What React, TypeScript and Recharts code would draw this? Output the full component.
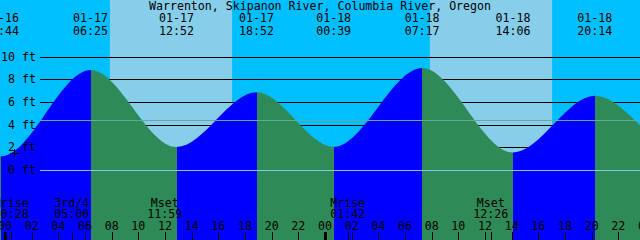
import React from "react";
import {
  ComposedChart,
  Area,
  XAxis,
  YAxis,
  ReferenceArea,
  ReferenceLine,
  ReferenceDot,
} from "recharts";

const W = 640;
const H = 240;
const NIGHT = "#00bfff";
const DAY = "#87ceeb";
const RISING = "#0000ff";
const FALLING = "#2e8b57";
const MSL_COLOR = "#66a89c";
const DATUM_COLOR = "#84c6e6";
const FONT = "'DejaVu Sans Mono', monospace";
const FS = 11.6;
const GUTTER = 40; // ft labels sit left of this

const title = "Warrenton, Skipanon River, Columbia River, Oregon";

// highs and lows (date, clock time, level in ft)
const tideDates = ["01-16", "01-17", "01-17", "01-17", "01-18", "01-18", "01-18", "01-18"];
const tideClock = ["23:44", "06:25", "12:52", "18:52", "00:39", "07:17", "14:06", "20:14"];
const tideLevels = [1.22, 8.83, 2.03, 6.86, 2.04, 9.0, 1.55, 6.55];

// level at the left and right edge of the window (hours from 01-17 00:00)
const edgeHours = [-0.375, 47.625];
const edgeLevels = [1.24, 3.95];

const sunDates = ["01-17", "01-18"];
const sunrise = ["07:52", "07:52"];
const sunset = ["17:02", "17:02"];

const moonDates = ["01-17", "01-17", "01-17", "01-18", "01-18"];
const moonNames = ["Mrise", "3rd/4", "Mset", "Mrise", "Mset"];
const moonClock = ["00:28", "05:00", "11:59", "01:42", "12:26"];

const hourTicks = [0, 2, 4, 6, 8, 10, 12, 14, 16, 18, 20, 22, 24, 26, 28, 30, 32, 34, 36, 38, 40, 42, 44, 46, 48];
const levelTicks = [0, 2, 4, 6, 8, 10];
const mslLevel = 4.38;
const nowMark = { date: "01-17", clock: "00:41", level: 1.53 };

const X_DOMAIN = [edgeHours[0], edgeHours[1]];
const Y_DOMAIN = [-6.18, 15];

const toHours = (date: string, clock: string) => {
  const day = Number(date.slice(3)) - 17;
  const [h, m] = clock.split(":").map(Number);
  return day * 24 + h + m / 60;
};

const tideHours = tideDates.map((d, i) => toHours(d, tideClock[i]));
const moonHours = moonDates.map((d, i) => toHours(d, moonClock[i]));

const curve = [
  { t: edgeHours[0], level: edgeLevels[0] },
  ...tideHours.map((t, i) => ({ t, level: tideLevels[i] })),
  { t: edgeHours[1], level: edgeLevels[1] },
];

// rising water blue, falling water green
const span = X_DOMAIN[1] - X_DOMAIN[0];
const stops: { o: number; c: string }[] = [];
for (let i = 0; i < curve.length - 1; i++) {
  const c = curve[i + 1].level > curve[i].level ? RISING : FALLING;
  stops.push({ o: (curve[i].t - X_DOMAIN[0]) / span, c });
  stops.push({ o: (curve[i + 1].t - X_DOMAIN[0]) / span, c });
}

const txt = { fontFamily: FONT, fontSize: FS, fill: "#000" };
const px = (v: number) => Math.round(v) + 0.5;

const EventTick = (p: any) => {
  const i = tideHours.indexOf(p.payload.value);
  if (i < 0) return null;
  return (
    <g>
      <text x={p.x} y={p.y + 21.7} textAnchor='middle' {...txt}>
        {tideDates[i]}
      </text>
      <text x={p.x} y={p.y + 35} textAnchor='middle' {...txt}>
        {tideClock[i]}
      </text>
    </g>
  );
};

const BottomTick = (p: any) => {
  const v = p.payload.value;
  const x = px(p.x);
  const hi = hourTicks.indexOf(v);
  if (hi >= 0) {
    const hh = v % 24;
    return (
      <g>
        <text x={p.x} y={p.y} textAnchor='middle' {...txt}>
          {String(hh).padStart(2, "0")}
        </text>
        <line x1={x} x2={x} y1={p.y + 2} y2={p.y + 10} stroke='#000' strokeWidth={hh === 0 ? 3 : 1} />
      </g>
    );
  }
  const mi = moonHours.indexOf(v);
  if (mi < 0) return null;
  return (
    <g>
      <text x={p.x} y={p.y - 23.3} textAnchor='middle' {...txt}>
        {moonNames[mi]}
      </text>
      <text x={p.x} y={p.y - 11.7} textAnchor='middle' {...txt}>
        {moonClock[mi]}
      </text>
      <line x1={x} x2={x} y1={p.y + 2} y2={p.y + 10} stroke='#000' strokeWidth={1} />
    </g>
  );
};

const gutterLine = (color: string) => (p: any) =>
  <line x1={GUTTER} x2={p.x2} y1={px(p.y1)} y2={px(p.y1)} stroke={color} strokeWidth={1} />;

export default function App() {
  return (
    <div style={{ position: "absolute", left: 0, top: 0, width: W, height: H, background: NIGHT }}>
      <ComposedChart width={W} height={H} data={curve} margin={{ top: 0, right: 0, bottom: 0, left: 0 }}>
        <defs>
          <linearGradient id='tideFill' x1='0' y1='0' x2='1' y2='0'>
            {stops.map((s, i) => (
              <stop key={i} offset={s.o} stopColor={s.c} />
            ))}
          </linearGradient>
        </defs>
        <XAxis
          xAxisId='h'
          dataKey='t'
          type='number'
          domain={X_DOMAIN}
          allowDataOverflow
          orientation='bottom'
          mirror
          height={30}
          ticks={[...hourTicks, ...moonHours]}
          interval={0}
          tickSize={8}
          tickMargin={2}
          tickLine={false}
          axisLine={false}
          tick={BottomTick}
        />
        <XAxis
          xAxisId='top'
          dataKey='t'
          type='number'
          domain={X_DOMAIN}
          allowDataOverflow
          orientation='top'
          mirror
          height={30}
          ticks={tideHours}
          interval={0}
          tickSize={0}
          tickMargin={0}
          tickLine={false}
          axisLine={false}
          tick={EventTick}
        />
        <YAxis yAxisId='y' type='number' domain={Y_DOMAIN} allowDataOverflow hide />

        {sunDates.map((d, i) => (
          <ReferenceArea
            key={d}
            xAxisId='h'
            yAxisId='y'
            x1={toHours(d, sunrise[i])}
            x2={toHours(d, sunset[i])}
            fill={DAY}
            fillOpacity={1}
            stroke='none'
            zIndex={-300}
          />
        ))}
        {levelTicks.map((lv) => (
          <ReferenceLine
            key={"g" + lv}
            xAxisId='h'
            yAxisId='y'
            y={lv}
            shape={gutterLine("#000")}
            zIndex={-200}
          />
        ))}

        <Area
          xAxisId='h'
          yAxisId='y'
          dataKey='level'
          type='monotone'
          stroke='none'
          fill='url(#tideFill)'
          fillOpacity={1}
          baseValue={Y_DOMAIN[0]}
          dot={false}
          activeDot={false}
          isAnimationActive={false}
        />

        <ReferenceLine xAxisId='h' yAxisId='y' y={mslLevel} shape={gutterLine(MSL_COLOR)} zIndex={450} />
        <ReferenceLine xAxisId='h' yAxisId='y' y={0} shape={gutterLine(DATUM_COLOR)} zIndex={450} />

        {levelTicks.map((lv) => (
          <ReferenceLine
            key={"l" + lv}
            xAxisId='h'
            yAxisId='y'
            y={lv}
            stroke='none'
            zIndex={2100}
            label={(p: any) => (
              <text x={36} y={p.viewBox.y + 4} textAnchor='end' {...txt}>
                {lv + " ft"}
              </text>
            )}
          />
        ))}

        <ReferenceDot
          xAxisId='h'
          yAxisId='y'
          x={toHours(nowMark.date, nowMark.clock)}
          y={nowMark.level}
          zIndex={2100}
          shape={(p: any) => (
            <g>
              <line x1={Math.round(p.cx) - 4} x2={Math.round(p.cx) + 5} y1={px(p.cy)} y2={px(p.cy)} stroke='#000' />
              <line x1={px(p.cx)} x2={px(p.cx)} y1={Math.round(p.cy) - 4} y2={Math.round(p.cy) + 4} stroke='#000' />
            </g>
          )}
        />

        <text x={W / 2} y={9.5} textAnchor='middle' {...txt}>
          {title}
        </text>
      </ComposedChart>
    </div>
  );
}
